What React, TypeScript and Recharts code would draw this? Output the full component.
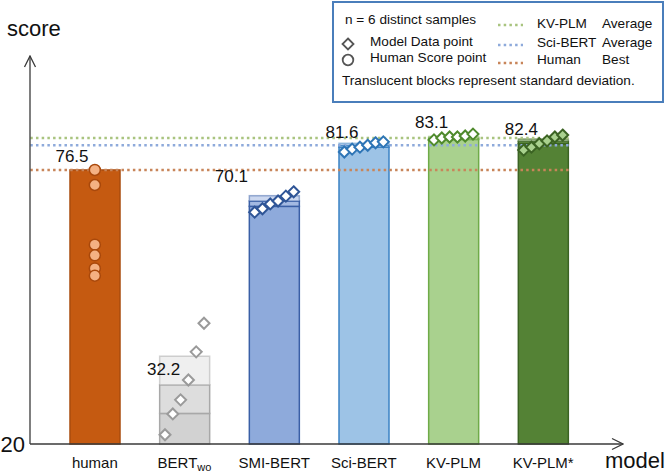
import React from 'react';
import { Bar, ComposedChart, LabelList, ReferenceLine, Scatter, XAxis, YAxis } from 'recharts';

const categories = ['human', 'BERTwo', 'SMI-BERT', 'Sci-BERT', 'KV-PLM', 'KV-PLM*'];
const barValues = [76.5, 32.2, 70.1, 81.6, 83.1, 82.4];
const stdValues = [0, 5.9, 1.1, 0.4, 0.3, 0.5];

const humanScores = [76.5, 73.4, 61.1, 58.9, 56.2, 54.7];
const bertWoPoints = [21.9, 26.2, 29.1, 33.2, 39.0, 44.9];
const smiBertPoints = [67.8, 68.5, 69.5, 70.1, 71.1, 72.0];
const sciBertPoints = [80.2, 80.8, 81.2, 81.6, 82.1, 82.3];
const kvPlmPoints = [82.7, 83.1, 83.3, 83.3, 83.5, 83.9];
const kvPlmStarPoints = [80.6, 81.2, 81.9, 82.5, 83.3, 83.7];

const kvPlmAverage = 83.1;
const sciBertAverage = 81.6;
const humanBest = 76.5;

const yTicks = [20];

// styling per bar (same order as categories)
const BAR_STYLE = [
  { fill: '#c55a11', mid: '#c55a11', top: '#c55a11', stroke: '#a94c0e' },
  { fill: '#d2d2d2', mid: '#dddddd', top: '#efefef', stroke: '#a8a8a8' },
  { fill: '#8eaadb', mid: '#a3b9e2', top: '#cbd7ef', stroke: '#3a5fa6' },
  { fill: '#9dc3e6', mid: '#aacbea', top: '#d3e4f5', stroke: '#3b82c4' },
  { fill: '#a9d18e', mid: '#b4d89c', top: '#d9ecca', stroke: '#6fab48' },
  { fill: '#548235', mid: '#5e8c3f', top: '#a9c497', stroke: '#3b6323' },
];

const POINT_STYLE = [
  { fill: '#f4b183', stroke: '#a9480b' },
  { fill: '#ffffff', stroke: '#9a9a9a' },
  { fill: '#ffffff', stroke: '#2f5597' },
  { fill: '#ffffff', stroke: '#2e75b6' },
  { fill: '#ffffff', stroke: '#4f8a2c' },
  { fill: '#a9d18e', stroke: '#3b6323' },
];

const LABEL_OFFSET = [
  { dx: 2, dy: -13 },
  { dx: 4, dy: -15 },
  { dx: -18, dy: -25 },
  { dx: 3, dy: -13 },
  { dx: 3, dy: -15 },
  { dx: 3, dy: -12 },
];

const FONT = '"Liberation Sans", Arial, Helvetica, sans-serif';
const AXIS = '#3a3a3a';
const PAD = { left: 20, right: 35 };

const barData = categories.map((name, i) => ({ name, value: barValues[i] }));
const pointSeries = [humanScores, bertWoPoints, smiBertPoints, sciBertPoints, kvPlmPoints, kvPlmStarPoints];

function StdBar(props: any) {
  const { x, y, width, height, index } = props;
  const s = BAR_STYLE[index];
  const unit = height / (barValues[index] - 20);
  const sd = stdValues[index] * unit;
  return (
    <g>
      <rect x={x} y={y + sd} width={width} height={height - sd} fill={s.fill} stroke={s.stroke} strokeWidth={1.5} />
      {sd > 0 && <rect x={x} y={y} width={width} height={sd} fill={s.mid} stroke={s.stroke} strokeWidth={1.5} />}
      {sd > 0 && <rect x={x} y={y - sd} width={width} height={sd} fill={s.top} stroke={s.stroke} strokeOpacity={0.5} strokeWidth={1.5} />}
    </g>
  );
}

function ModelTick({ x, y, payload }: any) {
  const label: string = payload.value;
  if (label === 'BERTwo') {
    return (
      <text x={x} y={y} dy={16} textAnchor="middle" fontSize={15} fill="#111">
        <tspan>BERT</tspan>
        <tspan fontSize={11} dy={3}>wo</tspan>
      </text>
    );
  }
  return (
    <text x={x} y={y} dy={16} textAnchor="middle" fontSize={15} fill="#111">
      {label}
    </text>
  );
}

function pointShape(ci: number) {
  const s = POINT_STYLE[ci];
  return (props: any) => {
    const { cx, cy } = props;
    if (ci === 0) {
      return <circle cx={cx} cy={cy} r={5.5} fill={s.fill} stroke={s.stroke} strokeWidth={1.5} />;
    }
    const r = 5.5;
    return (
      <polygon
        points={`${cx},${cy - r} ${cx + r},${cy} ${cx},${cy + r} ${cx - r},${cy}`}
        fill={s.fill}
        stroke={s.stroke}
        strokeWidth={2}
      />
    );
  };
}

function ValueLabel(props: any) {
  const { x, y, index, value } = props;
  const o = LABEL_OFFSET[index];
  return (
    <text x={x + o.dx} y={y + o.dy} textAnchor="middle" dominantBaseline="central" fontSize={17} fill="#111">
      {Number(value).toFixed(1)}
    </text>
  );
}

function RefLine({ y, color }: { y: number; color: string }) {
  return (
    <ReferenceLine
      xAxisId="num"
      segment={[{ x: -0.72, y }, { x: 5.3, y }]}
      stroke={color}
      strokeWidth={2.5}
      strokeDasharray="2.5 3.2"
      ifOverflow="visible"
    />
  );
}

function Legend() {
  const row = (top: number, left: number, text: string) => (
    <span style={{ position: 'absolute', top, left, whiteSpace: 'nowrap' }}>{text}</span>
  );
  const dots = (top: number, color: string) => (
    <svg style={{ position: 'absolute', left: 163, top }} width={26} height={4}>
      <line x1={1} y1={2} x2={26} y2={2} stroke={color} strokeWidth={2.5} strokeDasharray="2.5 3.2" />
    </svg>
  );
  return (
    <div
      style={{
        position: 'absolute',
        left: 332,
        top: 1,
        width: 328,
        height: 98,
        border: '2px solid #4a7ebb',
        fontSize: 13.6,
        color: '#111',
      }}
    >
      {row(9, 11, 'n = 6 distinct samples')}
      <svg style={{ position: 'absolute', left: 7, top: 34 }} width={14} height={14}>
        <polygon points="7,1.5 12.5,7 7,12.5 1.5,7" fill="#fff" stroke="#555" strokeWidth={1.8} />
      </svg>
      {row(31, 36, 'Model Data point')}
      <svg style={{ position: 'absolute', left: 7, top: 50 }} width={14} height={14}>
        <circle cx={7} cy={7} r={5.3} fill="#fff" stroke="#555" strokeWidth={1.8} />
      </svg>
      {row(47, 36, 'Human Score point')}
      {dots(20, '#a9c47f')}
      {dots(40, '#8eaadb')}
      {dots(58, '#c8855a')}
      {row(13, 203, 'KV-PLM')}
      {row(13, 268, 'Average')}
      {row(32, 203, 'Sci-BERT')}
      {row(32, 268, 'Average')}
      {row(49, 203, 'Human')}
      {row(49, 268, 'Best')}
      {row(70, 8, 'Translucent blocks represent standard deviation.')}
    </div>
  );
}

export default function App() {
  return (
    <div style={{ position: 'relative', width: 666, height: 472, fontFamily: FONT, background: '#fff' }}>
      <style>{'body{margin:0}'}</style>
      <svg width={0} height={0} style={{ position: 'absolute' }}>
        <defs>
          <marker
            id="axisArrow"
            viewBox="0 0 14 14"
            refX={13}
            refY={7}
            markerWidth={14}
            markerHeight={14}
            markerUnits="userSpaceOnUse"
            orient="auto-start-reverse"
          >
            <path d="M2,1.5 L13,7 L2,12.5" fill="none" stroke={AXIS} strokeWidth={1.3} />
          </marker>
        </defs>
      </svg>
      <ComposedChart width={666} height={472} data={barData} margin={{ top: 56, right: 43, bottom: 0, left: 0 }}>
        <XAxis
          xAxisId="cat"
          dataKey="name"
          padding={PAD}
          height={28}
          tickLine={false}
          tick={<ModelTick />}
          interval={0}
          axisLine={{ stroke: AXIS, strokeWidth: 1.3, markerEnd: 'url(#axisArrow)' }}
        />
        <XAxis
          xAxisId="num"
          type="number"
          dataKey="x"
          domain={[-0.5, 5.5]}
          allowDataOverflow
          padding={PAD}
          hide
        />
        <YAxis
          domain={[20, 100]}
          ticks={yTicks}
          width={30}
          tickLine={false}
          tickSize={0}
          tickMargin={5}
          tick={{ fontSize: 22, fill: '#111' }}
          axisLine={{ stroke: AXIS, strokeWidth: 1.3, markerStart: 'url(#axisArrow)' }}
        />
        <Bar xAxisId="cat" dataKey="value" barSize={50} shape={<StdBar />} isAnimationActive={false}>
          <LabelList dataKey="value" content={<ValueLabel />} />
        </Bar>
        {RefLine({ y: kvPlmAverage, color: '#a9c47f' })}
        {RefLine({ y: sciBertAverage, color: '#8eaadb' })}
        {RefLine({ y: humanBest, color: '#c8855a' })}
        {pointSeries.map((vals, ci) => (
          <Scatter
            key={categories[ci]}
            xAxisId="num"
            dataKey="y"
            data={vals.map((v, i) => ({ x: ci + (ci === 0 ? 0 : (i - 2.5) * 0.087), y: v }))}
            shape={pointShape(ci)}
            isAnimationActive={false}
          />
        ))}
      </ComposedChart>
      <div style={{ position: 'absolute', left: 7, top: 16, fontSize: 22, color: '#111' }}>score</div>
      <div style={{ position: 'absolute', left: 605, top: 448, fontSize: 22, color: '#111' }}>model</div>
      <Legend />
    </div>
  );
}
